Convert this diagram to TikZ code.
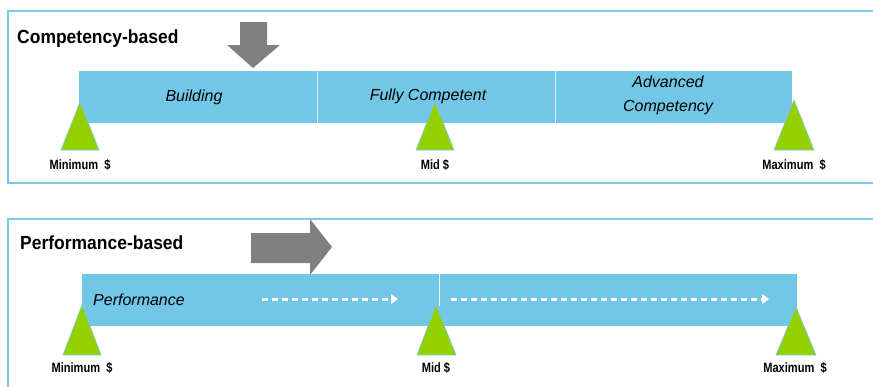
\documentclass[tikz,border=0pt]{standalone}
\usepackage{fontspec}
\setmainfont{Liberation Sans}
\usetikzlibrary{arrows.meta}
\definecolor{boxline}{RGB}{124,200,232}
\definecolor{barblue}{RGB}{114,198,230}
\definecolor{trigreen}{RGB}{146,208,0}
\definecolor{arrgray}{RGB}{128,128,128}
\newcommand{\condensed}[2]{\scalebox{#1}[1]{#2}}
\tikzset{
  panel/.style={draw=boxline,line width=2pt},
  bar/.style={fill=barblue,draw=none},
  divider/.style={draw=white!70!barblue,line width=0.8pt},
  marker/.style={fill=trigreen,draw=boxline,line width=0.6pt},
  title/.style={font=\fontsize{19}{21}\selectfont\bfseries,anchor=west,inner sep=0pt},
  stage/.style={font=\fontsize{16}{19}\selectfont\itshape,inner sep=0pt,align=center},
  tick/.style={font=\fontsize{13.5}{15}\selectfont\bfseries,inner sep=0pt},
  dasharrow/.style={draw=white,line width=3pt,dash pattern=on 6pt off 4pt,-{Triangle[width=10pt,length=7pt]}},
  bigarrow/.style={fill=arrgray,draw=none}
}
\begin{document}
\begin{tikzpicture}[x=1pt,y=-1pt]
\useasboundingbox (0,0) rectangle (873,386);
\clip (0,0) rectangle (873,386);
% ---------- top panel ----------
\draw[panel] (8,11) rectangle (885,183);
\node[title] (t1) at (17,39) {\condensed{0.92}{Competency-based}};
\fill[bigarrow] (240,22) -- (267,22) -- (267,45) -- (280,45) -- (253,68) -- (227,45) -- (240,45) -- cycle;
\fill[bar] (79,71) rectangle (792,123);
\coordinate (d1t) at (317,71); \coordinate (d1b) at (317,123);
\coordinate (d2t) at (555,71); \coordinate (d2b) at (555,123);
\draw[divider] (d1t) -- (d1b);
\draw[divider] (d2t) -- (d2b);
\node[stage] (s1) at (194,97) {Building};
\node[stage] (s2) at (428,96) {Fully Competent};
\node[stage,font=\fontsize{16}{24}\selectfont\itshape] (s3) at (668,95) {Advanced\\Competency};
\draw[marker] (80,102) -- (99,150) -- (61,150) -- cycle;
\draw[marker] (435,102) -- (454,150) -- (416,150) -- cycle;
\draw[marker] (794,100) -- (814,150) -- (774,150) -- cycle;
\node[tick] (l1) at (80,165) {\condensed{0.82}{Minimum \ \$}};
\node[tick] (l2) at (435,165) {\condensed{0.82}{Mid \$}};
\node[tick] (l3) at (794,165) {\condensed{0.82}{Maximum \ \$}};
% ---------- bottom panel ----------
\draw[panel] (8,219) rectangle (885,400);
\node[title] (t2) at (20,243) {\condensed{0.92}{Performance-based}};
\fill[bigarrow] (251,233) -- (310,233) -- (310,219) -- (332,247) -- (310,275) -- (310,263) -- (251,263) -- cycle;
\fill[bar] (82,274) rectangle (797,326);
\coordinate (d3t) at (439,274); \coordinate (d3b) at (439,306);
\draw[draw=white,line width=0.8pt] (d3t) -- (d3b);
\node[stage,anchor=west] (p) at (93,300) {Performance};
\coordinate (a1s) at (262,299); \coordinate (a1e) at (398,299);
\coordinate (a2s) at (451,299); \coordinate (a2e) at (769,299);
\draw[dasharrow] (a1s) -- (a1e);
\draw[dasharrow] (a2s) -- (a2e);
\draw[marker] (82,305) -- (101,355) -- (63,355) -- cycle;
\draw[marker] (436,305) -- (456,355) -- (417,355) -- cycle;
\draw[marker] (796,307) -- (816,355) -- (776,355) -- cycle;
\node[tick] (l4) at (82,368) {\condensed{0.82}{Minimum \ \$}};
\node[tick] (l5) at (436,368) {\condensed{0.82}{Mid \$}};
\node[tick] (l6) at (795,368) {\condensed{0.82}{Maximum \ \$}};
\end{tikzpicture}
\end{document}
